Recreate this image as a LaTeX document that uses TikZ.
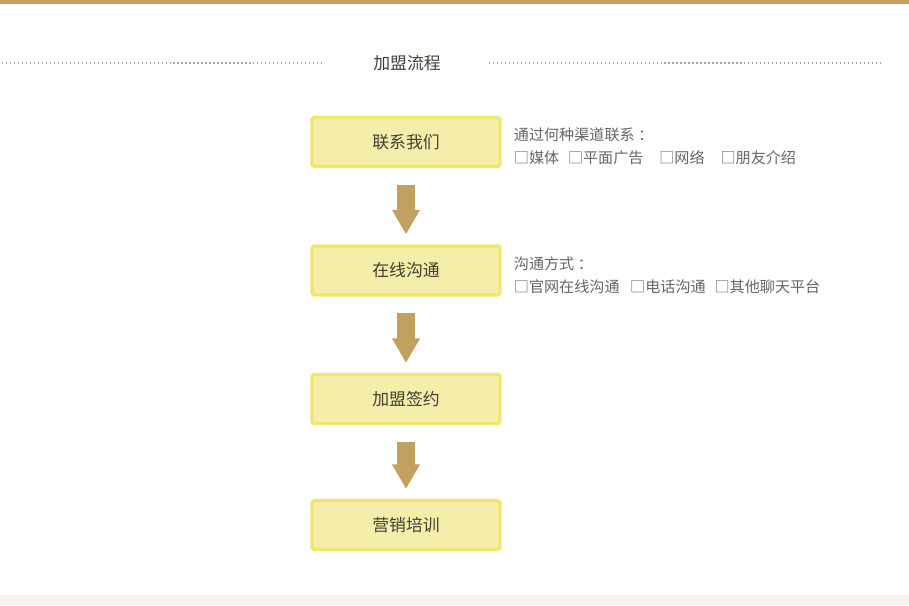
\documentclass[tikz,border=0pt]{standalone}
\usepackage{fontspec}
\setmainfont{Noto Sans CJK SC}
\usetikzlibrary{arrows.meta,positioning}
\definecolor{barGold}{HTML}{C4A266}
\definecolor{arrowGold}{HTML}{C2A160}
\definecolor{boxFill}{HTML}{F4EEAA}
\definecolor{boxLine}{HTML}{F2E66A}
\definecolor{bandCream}{HTML}{F6F4EA}
\definecolor{darkText}{HTML}{404036}
\definecolor{noteText}{HTML}{666666}

\begin{document}
\begin{tikzpicture}[
    x=0.02cm, y=-0.02cm,
    every node/.style={font=\fontsize{9.6}{11}\selectfont, text=darkText},
    stepbox/.style={draw=boxLine, line width=1.8pt, fill=boxFill, rounded corners=1pt, minimum width=3.76cm, minimum height=0.98cm, inner sep=0pt},
    note/.style={font=\fontsize{8.6}{13}\selectfont, text=noteText, align=left, inner sep=0pt, anchor=west},
    flow/.style={arrowGold, line width=10.2pt, -{Triangle[width=15pt, length=14pt]}, shorten <=9.6pt, shorten >=5.7pt},
    dots/.style={gray!70, line width=0.8pt, dash pattern=on 0.7pt off 1.57pt}
]
\useasboundingbox (0,0) rectangle (909,605);
% top bar and bottom band
\fill[barGold] (0,0) rectangle (909,4);
\fill[bandCream] (0,595) rectangle (909,605);
% title with dotted rules
\node (title) at (407,63) {加盟流程};
\draw[dots] (2,63) -- (325,63);
\draw[dots] (489,63) -- (882,63);
% steps
\node[stepbox] (contact) at (406,142) {联系我们};
\node[stepbox] (online) at (406,270.5) {在线沟通};
\node[stepbox] (join) at (406,399) {加盟签约};
\node[stepbox] (train) at (406,525) {营销培训};
\draw[flow] (contact) -- (online);
\draw[flow] (online) -- (join);
\draw[flow] (join) -- (train);
% notes
\node[note, right=0.24cm of contact, yshift=-0.09cm] (channel) {通过何种渠道联系\hspace{2pt}：\\
  □媒体\hspace{5pt}□平面广告\hspace{9pt}□网络\hspace{9pt}□朋友介绍};
\node[note, right=0.24cm of online, yshift=-0.09cm] (manner) {沟通方式\hspace{2pt}：\\
  □官网在线沟通\hspace{6pt}□电话沟通\hspace{5pt}□其他聊天平台};
\end{tikzpicture}
\end{document}
